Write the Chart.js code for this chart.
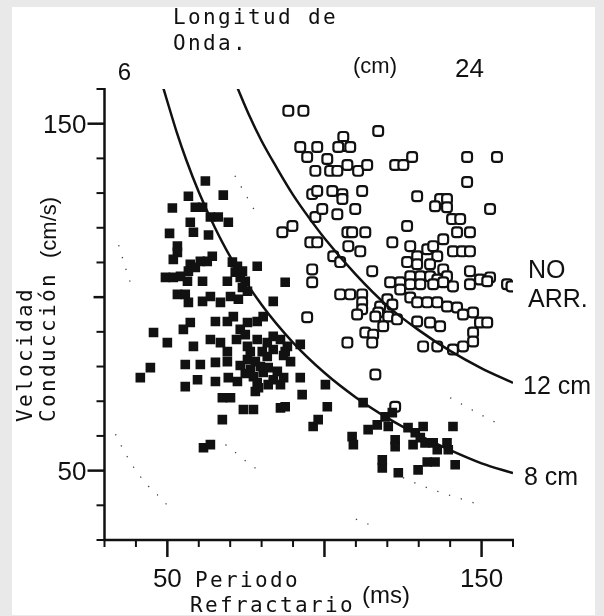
<!DOCTYPE html>
<html>
<head>
<meta charset="utf-8">
<script src="https://cdn.jsdelivr.net/npm/chart.js@4.4.1/dist/chart.umd.min.js"></script>
<style>
  html, body { margin: 0; padding: 0; background: #e9e9e9; }
  #panel { position: absolute; left: 12px; top: 7px; width: 583px; height: 608px; background: #fff; }
  canvas { display: block; }
</style>
</head>
<body>
<div id="panel"><canvas id="chart" width="583" height="608"></canvas></div>
<script>
// axis ranges and ticks
const xMin = 30, xMax = 160;
const yMin = 30, yMax = 160;
const xTickValues = [30, 40, 50, 60, 70, 80, 90, 100, 110, 120, 130, 140, 150, 160];
const yTickValues = [30, 40, 50, 60, 70, 80, 90, 100, 110, 120, 130, 140, 150, 160];
const xMajorTicks = [50, 100, 150];
const yMajorTicks = [50, 100, 150];
const xTickLabels = [50, 150];
const yTickLabels = [50, 150];

// wavelength curves (solid)
const curve8RP = [47.5, 50, 53, 56, 60, 65, 70, 80, 90, 100, 110, 120, 130, 140, 150, 160];
const curve8V = [164, 156.4, 147.5, 139.6, 130.3, 120.3, 111.7, 97.8, 86.9, 78.2, 71.1, 65.2, 60.2, 55.9, 52.1, 49.3];
const curve12RP = [72, 76, 80, 85, 90, 95, 100, 110, 120, 130, 140, 150, 160];
const curve12V = [161, 152.5, 145, 137, 129.5, 123, 117, 106.5, 97.5, 90.5, 84.5, 79.5, 75.3];

// faint dotted curves (only the visible bits; null = gap)
const dot2RP = [33.5, 36, 40, 44, 48, 50.5];
const dot2V = [60.5, 56, 50, 45.5, 42, 39.5];
const dot4RP = [34.5, 36.5, 39, 50, 68.5, 72, 76, 80, 95, 110, 115.5];
const dot4V = [115, 109, 102, null, 57.5, 55, 52, 49.5, null, 36, 34];
const dot6RP = [125, 130, 136, 143, 150];
const dot6V = [48, 46, 44, 42, 40];
const dot10RP = [71.5, 74, 76.5, 79, 110, 140, 145, 150, 156];
const dot10V = [135, 131, 127, 123, null, 71, 68.5, 66, 63.2];

// filled squares: arrhythmia group (refractory period ms, velocity cm/s)
const arrRP = [
  62.1, 67.8, 56.7, 51.6, 58.9, 61.2, 63.7, 66.2, 69.4, 57.3,
  58.3, 50.7, 63.1, 53.2, 53.2, 51.9, 64.3, 62.7, 60.5, 57.3,
  58.9, 49.4, 51.9, 54.2, 56.7, 56.4, 61.2, 70.7, 72.3, 71.6,
  73.9, 73.2, 74.8, 78.6, 87.5, 69.1, 53.2, 55.7, 56.7, 61.2,
  63.7, 66.9, 70.1, 72.6, 73.9, 75.5, 83.7, 57.3, 55.1, 45.6,
  50.0, 58.3, 63.7, 65.3, 69.1, 71.0, 73.2, 75.5, 78.6, 80.5,
  66.9, 69.1, 75.5, 78.6, 81.8, 83.7, 86.0, 88.2, 83.7, 81.8,
  92.3, 44.6, 41.4, 55.7, 55.7, 60.5, 59.6, 65.3, 65.3, 69.1,
  69.4, 72.3, 75.5, 76.4, 77.4, 78.6, 78.0, 80.5, 79.6, 85.0,
  87.0, 83.7, 92.3, 92.9, 67.5, 70.1, 74.2, 77.4, 86.0, 87.5,
  67.5, 96.4, 98.0, 61.5, 63.7, 100.3, 100.9, 112.3, 108.8, 109.2,
  113.9, 116.8, 119.3, 120.3, 121.6, 122.5, 122.5, 126.6, 128.9, 131.4,
  130.5, 128.2, 132.0, 134.6, 139.0, 139.4, 135.9, 140.9, 118.4, 118.4,
  123.5, 129.8, 132.7, 135.2, 141.6, 76.4, 73.2, 82.1, 74.8, 89.2, 72.0, 87.0,
  74.8, 80.2, 78.0, 82.1, 79.0, 86.0, 87.5
];
const arrVel = [
  133.5, 129.4, 129.1, 125.7, 125.9, 125.9, 123.1, 123.1, 121.6, 121.6,
  118.7, 118.4, 117.9, 114.7, 112.9, 110.9, 111.8, 110.3, 110.3, 109.5,
  108.6, 105.7, 105.7, 106.0, 107.5, 104.6, 104.6, 110.1, 108.9, 107.2,
  107.5, 105.7, 104.6, 108.9, 104.3, 104.6, 100.8, 100.8, 98.5, 98.8,
  100.2, 98.5, 100.2, 99.4, 102.8, 101.7, 98.8, 92.7, 90.7, 89.8,
  86.9, 85.8, 87.8, 93.0, 93.0, 94.4, 90.7, 92.7, 93.0, 94.4,
  86.9, 84.3, 85.8, 87.8, 86.9, 88.7, 87.8, 85.8, 84.9, 82.9,
  86.4, 79.7, 76.8, 80.6, 74.2, 80.6, 76.2, 81.2, 75.7, 81.4,
  76.8, 75.7, 82.0, 79.1, 77.1, 75.4, 72.8, 78.3, 80.0, 78.6,
  76.8, 76.2, 76.8, 71.9, 71.0, 71.0, 67.6, 67.6, 68.1, 68.4,
  64.7, 62.7, 64.7, 56.6, 57.5, 74.8, 68.4, 69.6, 59.8, 57.5,
  61.8, 63.2, 65.5, 62.7, 66.7, 58.9, 56.9, 62.4, 60.9, 62.7,
  59.5, 57.5, 58.0, 58.0, 58.0, 56.0, 56.0, 62.7, 53.1, 50.8,
  49.4, 50.2, 52.5, 52.5, 51.7, 84.3, 80.3, 74.8, 78.0, 81.4, 87.8, 83.2,
  89.2, 84.3, 81.4, 79.7, 73.9, 74.8, 84.3
];

// open squares: no arrhythmia group
const noArrRP = [
  88.5, 93.3, 92.3, 97.7, 94.5, 97.1, 96.1, 97.7, 97.1, 86.6,
  89.8, 95.5, 97.7, 96.1, 96.1, 117.1, 106.0, 106.0, 108.2, 104.4,
  100.9, 101.8, 104.1, 107.3, 110.7, 113.6, 122.5, 125.1, 127.9, 145.4,
  154.9, 145.4, 102.5, 105.7, 105.7, 112.0, 129.5, 136.8, 139.0, 135.2,
  139.0, 152.7, 99.3, 104.1, 109.8, 140.6, 143.2, 126.3, 107.3, 108.8,
  113.0, 142.2, 146.3, 121.6, 107.6, 111.4, 137.8, 140.9, 143.8, 146.3,
  102.8, 105.0, 127.3, 129.5, 132.7, 134.6, 135.9, 126.3, 129.5, 133.6,
  137.8, 127.3, 130.5, 133.6, 135.9, 139.0, 124.1, 146.3, 149.5, 152.7,
  146.3, 158.1, 159.5, 115.2, 120.9, 105.0, 108.2, 112.0, 112.0, 112.0,
  110.4, 117.7, 117.1, 120.0, 121.6, 127.3, 130.5, 134.6, 137.8, 140.9,
  151.8, 124.1, 127.3, 129.5, 132.7, 135.9, 139.0, 142.2, 116.2, 120.3,
  123.1, 118.7, 129.5, 133.6, 136.8, 144.1, 147.3, 149.5, 151.8, 147.3,
  147.3, 113.0, 115.5, 115.2, 107.3, 131.4, 135.9, 140.9, 144.1, 94.5,
  116.2, 122.5
];
const noArrVel = [
  153.7, 153.7, 143.3, 143.3, 140.4, 136.4, 129.7, 130.6, 123.1, 118.7,
  120.5, 115.8, 115.8, 108.0, 104.3, 147.9, 146.2, 143.6, 143.3, 143.3,
  139.8, 136.4, 136.4, 138.1, 136.4, 138.1, 138.1, 138.1, 140.4, 140.4,
  140.4, 133.2, 130.6, 129.7, 128.3, 130.6, 129.1, 128.3, 128.3, 126.2,
  125.9, 125.4, 125.4, 123.9, 125.4, 122.5, 122.5, 120.5, 118.7, 118.7,
  118.7, 118.7, 118.7, 115.8, 114.7, 113.2, 116.7, 113.2, 113.2, 113.2,
  111.8, 110.1, 114.7, 111.8, 113.8, 114.7, 111.8, 110.1, 109.5, 109.5,
  108.0, 106.0, 106.0, 106.0, 105.1, 106.0, 104.3, 107.5, 105.1, 105.7,
  103.7, 103.7, 103.1, 107.5, 104.3, 100.8, 100.8, 100.8, 98.5, 96.5,
  95.0, 97.3, 95.6, 99.4, 97.9, 103.7, 103.7, 103.7, 104.3, 103.1,
  104.6, 102.2, 99.9, 98.5, 98.5, 98.5, 97.3, 97.0, 94.4, 94.4,
  93.6, 91.6, 93.0, 92.7, 91.6, 95.0, 95.6, 92.7, 92.7, 89.8,
  87.2, 89.8, 89.2, 86.9, 86.9, 85.8, 85.8, 84.9, 85.8, 94.2,
  77.7, 68.4
];

const ink = '#111';
const sans = '"Liberation Sans", Arial, sans-serif';
const mono = '"DejaVu Sans Mono", monospace';

function toPoints(xs, ys) {
  return xs.map((v, i) => ({ x: v, y: ys[i] }));
}

function curve(xs, ys) {
  return {
    data: toPoints(xs, ys), showLine: true, pointRadius: 0,
    borderColor: ink, borderWidth: 2.5, cubicInterpolationMode: 'monotone', order: 0
  };
}

function dotted(xs, ys) {
  return {
    data: toPoints(xs, ys), showLine: true, pointRadius: 0, spanGaps: false,
    borderColor: '#444', borderWidth: 1.3, borderDash: [1.3, 11],
    cubicInterpolationMode: 'monotone', order: 3
  };
}

// typewriter text, fixed pitch
function typeText(ctx, text, x, y, pitch) {
  for (let i = 0; i < text.length; i++) ctx.fillText(text[i], x + i * pitch, y);
}

const axesAndLabels = {
  id: 'axesAndLabels',
  afterDraw(chart) {
    const { ctx, scales: { x, y } } = chart;
    const left = x.getPixelForValue(xMin), right = x.getPixelForValue(xMax);
    const bottom = y.getPixelForValue(yMin), top = y.getPixelForValue(yMax);
    ctx.save();
    ctx.strokeStyle = ink;
    ctx.fillStyle = ink;

    // axis lines
    ctx.lineWidth = 2.5;
    ctx.beginPath();
    ctx.moveTo(left - 1, bottom);
    ctx.lineTo(right + 1, bottom);
    ctx.moveTo(left, bottom + 1);
    ctx.lineTo(left, top - 1);
    ctx.stroke();

    // ticks
    xTickValues.forEach(v => {
      const px = x.getPixelForValue(v);
      const major = xMajorTicks.includes(v);
      ctx.lineWidth = major ? 2.5 : 2;
      ctx.beginPath();
      ctx.moveTo(px, bottom);
      ctx.lineTo(px, bottom + (major ? 17 : 7));
      ctx.stroke();
    });
    yTickValues.forEach(v => {
      const py = y.getPixelForValue(v);
      const major = yMajorTicks.includes(v);
      ctx.lineWidth = major ? 2.5 : 2;
      ctx.beginPath();
      ctx.moveTo(left, py);
      ctx.lineTo(left - (v === 100 ? 11 : major ? 17 : 8), py);
      ctx.stroke();
    });

    // tick labels
    ctx.font = '26px ' + sans;
    ctx.textAlign = 'center';
    ctx.textBaseline = 'alphabetic';
    xTickLabels.forEach(v => ctx.fillText(String(v), x.getPixelForValue(v), bottom + 47));
    ctx.textAlign = 'right';
    yTickLabels.forEach(v => ctx.fillText(String(v), left - 18, y.getPixelForValue(v) + 9));

    // curve labels, at the end of each curve
    ctx.textAlign = 'left';
    ctx.font = '25px ' + sans;
    const end12 = { x: x.getPixelForValue(curve12RP[curve12RP.length - 1]), y: y.getPixelForValue(curve12V[curve12V.length - 1]) };
    const end8 = { x: x.getPixelForValue(curve8RP[curve8RP.length - 1]), y: y.getPixelForValue(curve8V[curve8V.length - 1]) };
    ctx.fillText('12 cm', end12.x + 10, end12.y + 11);
    ctx.fillText('8 cm', end8.x + 11, end8.y + 12);
    ctx.fillText('NO', 516, 271);
    ctx.fillText('ARR.', 516, 300);

    // top annotation
    ctx.font = '24px ' + sans;
    ctx.textAlign = 'center';
    ctx.fillText('6', 112.5, 73);
    ctx.textAlign = 'left';
    ctx.font = '26px ' + sans;
    ctx.fillText('24', 443, 70);
    ctx.font = '22px ' + sans;
    ctx.fillText('(cm)', 341, 66);
    ctx.font = '21px ' + mono;
    typeText(ctx, 'Longitud de', 161, 17, 15);
    typeText(ctx, 'Onda.', 161, 43, 15);

    // x axis title
    typeText(ctx, 'Periodo', 183, 580, 15);
    typeText(ctx, 'Refractario', 178, 605, 15);
    ctx.font = '24px ' + sans;
    ctx.fillText('(ms)', 350, 596);

    // y axis title, rotated
    ctx.save();
    ctx.translate(20, 415);
    ctx.rotate(-Math.PI / 2);
    ctx.font = '21px ' + mono;
    typeText(ctx, 'Velocidad', 0, 0, 15);
    ctx.restore();
    ctx.save();
    ctx.translate(43, 415);
    ctx.rotate(-Math.PI / 2);
    ctx.font = '21px ' + mono;
    typeText(ctx, 'Conducción', 0, 0, 15);
    ctx.font = '22px ' + sans;
    ctx.fillText('(cm/s)', 164, 1);
    ctx.restore();

    ctx.restore();
  }
};

const ctx = document.getElementById('chart').getContext('2d');
new Chart(ctx, {
  type: 'scatter',
  data: {
    datasets: [
      curve(curve8RP, curve8V),
      curve(curve12RP, curve12V),
      {
        data: toPoints(arrRP, arrVel), pointStyle: 'rect', pointRadius: 6.8,
        backgroundColor: ink, borderWidth: 0, order: 1
      },
      {
        data: toPoints(noArrRP, noArrVel), pointStyle: 'rectRounded', pointRadius: 5.7,
        backgroundColor: '#fff', borderColor: ink, borderWidth: 2.2, order: 2
      },
      dotted(dot2RP, dot2V),
      dotted(dot4RP, dot4V),
      dotted(dot6RP, dot6V),
      dotted(dot10RP, dot10V)
    ]
  },
  options: {
    responsive: false,
    animation: false,
    layout: { padding: { left: 92.5, right: 82, top: 82, bottom: 75 } },
    scales: {
      x: { type: 'linear', min: xMin, max: xMax, display: false },
      y: { type: 'linear', min: yMin, max: yMax, display: false }
    },
    plugins: {
      legend: { display: false },
      tooltip: { enabled: false }
    }
  },
  plugins: [axesAndLabels]
});
</script>
</body>
</html>
